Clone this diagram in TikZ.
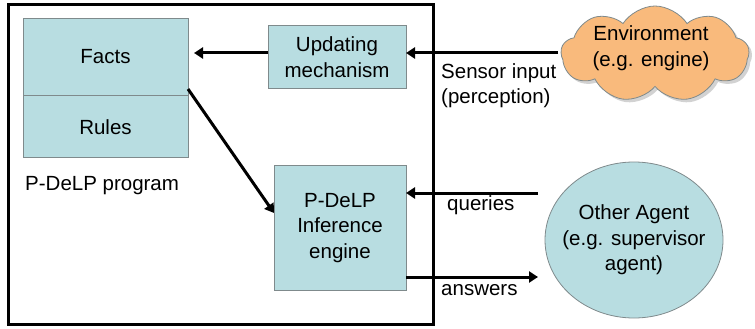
\documentclass[tikz,border=0pt]{standalone}
\usepackage{fontspec}
\setmainfont{Liberation Sans}
\usetikzlibrary{arrows.meta,shapes.symbols,shapes.geometric,shadows}
\definecolor{boxfill}{HTML}{B8DDE1}
\definecolor{cloudfill}{HTML}{F9BA7C}
\definecolor{edgegray}{HTML}{7F8A8C}
\tikzset{
  blk/.style={draw=edgegray,line width=0.8pt,fill=boxfill},
  lbl/.style={font=\fontsize{20.5}{25.5}\selectfont,inner sep=0pt,align=center},
  conn/.style={line width=3pt,-{Triangle[length=9pt,width=11pt]}},
}
\begin{document}
\begin{tikzpicture}[x=1pt,y=-1pt]
\useasboundingbox (0,0) rectangle (755,329);
% outer frame
\draw[line width=3pt] (8.5,4.5) rectangle (433,324);
% facts / rules
\node[blk,minimum width=165pt,minimum height=77pt,anchor=north west,inner sep=0pt] (facts) at (23,18) {};
\node[blk,minimum width=165pt,minimum height=62pt,anchor=north west,inner sep=0pt] (rules) at (23,95) {};
\node[lbl] (factst) at (105.5,57) {Facts};
\node[lbl] (rulest) at (105.5,127) {Rules};
\node[lbl,anchor=base west] (prog) at (25,190) {P-DeLP program};
% updating mechanism
\node[blk,minimum width=138pt,minimum height=63pt,anchor=north west,inner sep=0pt] (upd) at (268,25) {};
\node[lbl] (updt) at (337,57) {Updating\\mechanism};
% inference engine
\node[blk,minimum width=132pt,minimum height=125pt,anchor=north west,inner sep=0pt] (inf) at (274,165) {};
\node[lbl] (inft) at (340,228) {P-DeLP\\Inference\\engine};
% cloud
\node[cloud,cloud puffs=9,cloud puff arc=115,aspect=2.1,draw=edgegray,line width=0.8pt,fill=cloudfill,
      drop shadow={shadow xshift=3pt,shadow yshift=-3pt,fill=black!35},
      minimum width=188pt,minimum height=96pt,inner sep=0pt] (env) at (655,54) {};
\node[lbl] (envt) at (651,48) {Environment\\(e.g. engine)};
% other agent
\node[ellipse,draw=edgegray,line width=0.8pt,fill=boxfill,minimum width=178pt,minimum height=156pt,inner sep=0pt] (agent) at (634,240) {};
\node[lbl] (agentt) at (634,240) {Other Agent\\(e.g. supervisor\\agent)};
% coordinates for arrow ends
\coordinate (envW) at (558,53);
\coordinate (qS) at (538,193);
\coordinate (aE) at (538,277);
\coordinate (updE) at (406,53);
\coordinate (infEq) at (406,193);
\coordinate (infEa) at (406,277);
\coordinate (updW) at (268,53);
\coordinate (factsE) at (194,53);
\coordinate (factsC) at (188,89);
\coordinate (infW) at (274,213);
% connectors
\draw[conn] (envW) -- (updE);
\draw[conn] (updW) -- (factsE);
\draw[conn] (factsC) -- (infW);
\draw[conn] (qS) -- (infEq);
\draw[conn] (infEa) -- (aE);
% labels
\node[lbl,anchor=base west,align=left] (sens) at (441,78) {Sensor input};
\node[lbl,anchor=base west,align=left] (perc) at (441,103) {(perception)};
\node[lbl,anchor=base west] (quer) at (447,210) {queries};
\node[lbl,anchor=base west] (answ) at (441,295) {answers};
\end{tikzpicture}
\end{document}
